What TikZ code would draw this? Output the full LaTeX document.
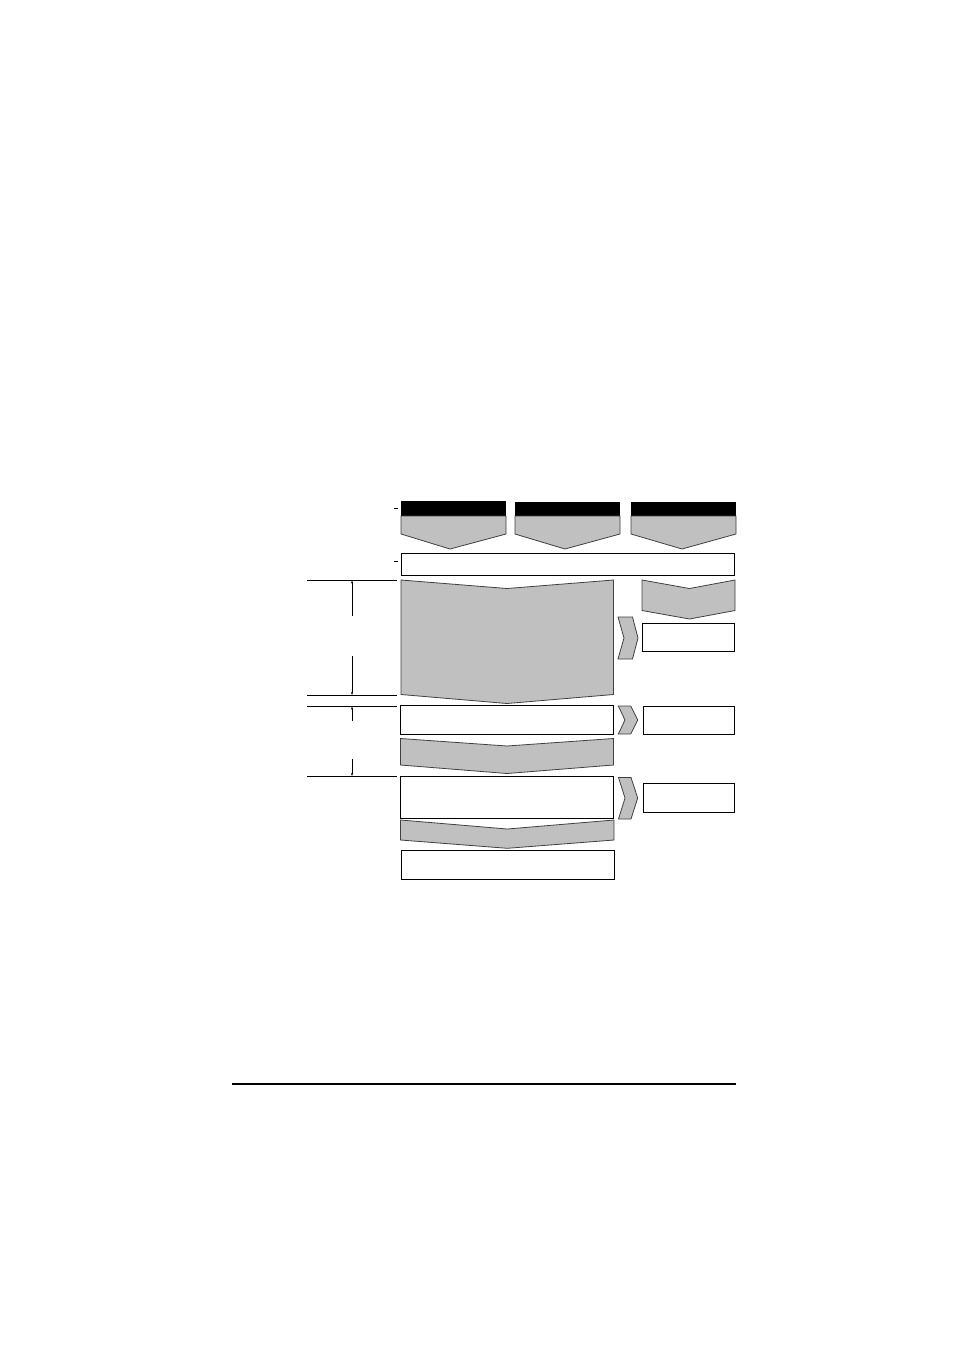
\documentclass[tikz,border=0pt]{standalone}
\usetikzlibrary{arrows.meta}
\definecolor{chev}{RGB}{192,192,192}
\tikzset{
  whitebox/.style={draw=black, line width=1pt, fill=white},
  graychev/.style={draw=black!75, line width=0.8pt, fill=chev, line join=miter},
  header/.style={fill=black},
  leader/.style={draw=black, line width=1pt},
  dimline/.style={draw=black, line width=0.8pt, -{Stealth[length=3pt,width=2pt]}},
  rule/.style={draw=black, line width=1.4pt},
}
\begin{document}
\begin{tikzpicture}[x=1pt,y=-1pt]
\useasboundingbox (0,0) rectangle (954,1350);
% top three headed chevrons
\fill[header] (401,501) rectangle (506,516);
\path[graychev] (401,516) -- (506,516) -- (506,534) -- (450,549) -- (401,534) -- cycle;
\fill[header] (515,502) rectangle (620,516);
\path[graychev] (515,516) -- (620,516) -- (620,534) -- (565,549) -- (515,534) -- cycle;
\fill[header] (631,502) rectangle (736,516);
\path[graychev] (631,516) -- (736,516) -- (736,534) -- (682,549) -- (631,534) -- cycle;
% small dashes
\draw[line width=0.8pt] (394,508) -- (398,508);
\draw[line width=0.8pt] (394,561) -- (398,561);
% wide white box
\path[whitebox] (401,553) rectangle (734,575);
% left leader lines
\path[leader] (307,580) -- (397,580);
\path[leader] (307,695.5) -- (397,695.5);
\path[leader] (307,706) -- (397,706);
\path[leader] (307,776.5) -- (397,776.5);
% dimension lines
\coordinate (d1a) at (352,616); \coordinate (d1t) at (352,580.5);
\coordinate (d1b) at (352,656); \coordinate (d1u) at (352,695);
\path[dimline] (d1a) -- (d1t);
\path[dimline] (d1b) -- (d1u);
\coordinate (d2a) at (352,721); \coordinate (d2t) at (352,706.5);
\coordinate (d2b) at (352,759); \coordinate (d2u) at (352,776);
\path[dimline] (d2a) -- (d2t);
\path[dimline] (d2b) -- (d2u);
% big gray chevron
\path[graychev] (401,580) -- (507,588.5) -- (613.5,580) -- (613.5,694.5) -- (507,703.5) -- (401,694.5) -- cycle;
% right gray chevron
\path[graychev] (642,580) -- (689.5,588.5) -- (735,580) -- (735,610.5) -- (689.5,619) -- (642,610.5) -- cycle;
% right boxes
\path[whitebox] (642.5,623.5) rectangle (734.5,651);
\path[whitebox] (643.3,706) rectangle (734.3,734.3);
\path[whitebox] (643.3,783.3) rectangle (734.3,812.3);
% small side chevrons
\path[graychev] (618,617) -- (632.5,617) -- (638,638) -- (632.5,659) -- (618,659) -- (624,638) -- cycle;
\path[graychev] (618.3,706) -- (630.7,706) -- (637.7,720) -- (630.7,734) -- (618.3,734) -- (625,720) -- cycle;
\path[graychev] (618.5,777.5) -- (631,777.5) -- (637.7,798) -- (631,819) -- (618.5,819) -- (625,798) -- cycle;
% main column
\path[whitebox] (400.5,705) rectangle (613.5,734.5);
\path[graychev] (400.5,738.5) -- (507,746) -- (613.5,738.5) -- (613.5,765) -- (507,773.5) -- (400.5,765) -- cycle;
\path[whitebox] (400.5,776.5) rectangle (613.5,818);
\path[graychev] (400.5,820) -- (507.3,829) -- (614,820) -- (614,840) -- (507.3,848.3) -- (400.5,840) -- cycle;
\path[whitebox] (401,850) rectangle (614.3,879.3);
% bottom rule
\path[rule] (232,1084) -- (736,1084);
\end{tikzpicture}
\end{document}
